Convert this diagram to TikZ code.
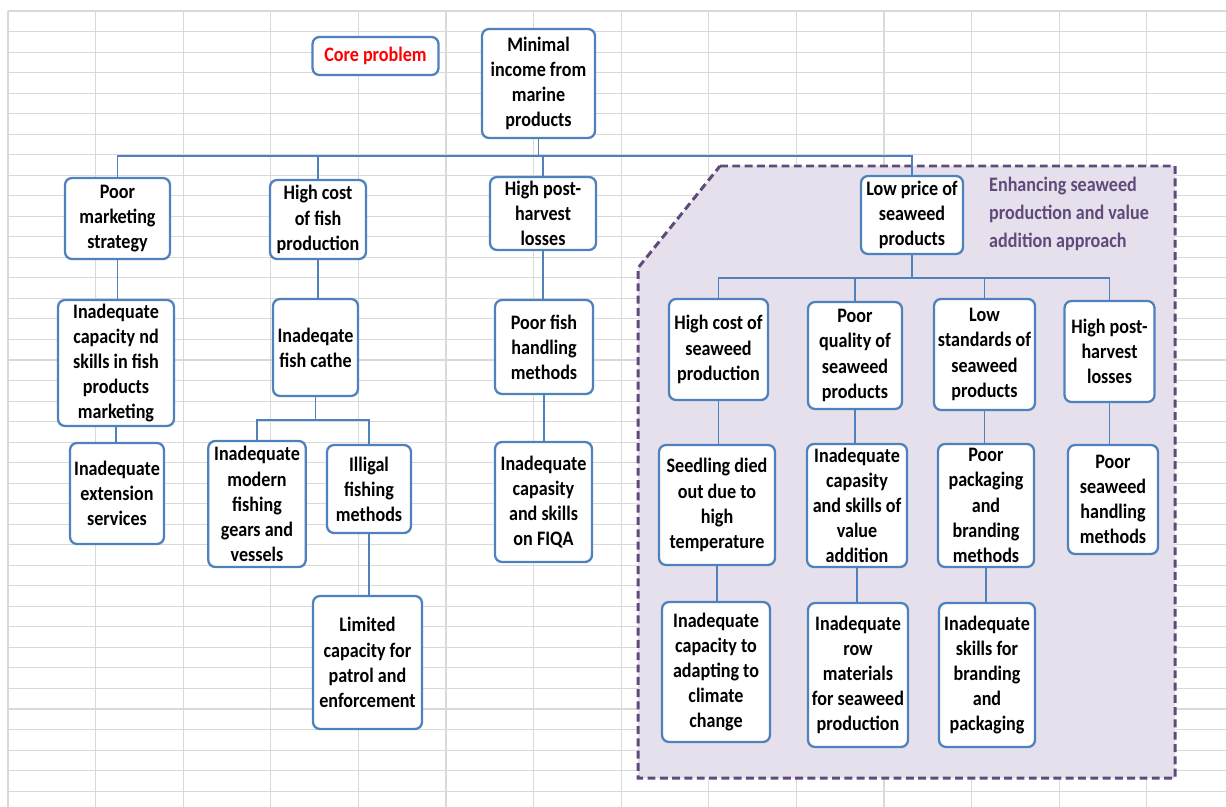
\documentclass[tikz,border=0pt]{standalone}
\usepackage{fontspec}
\setmainfont{Carlito}[FakeStretch=0.88]
\definecolor{boxblue}{HTML}{4F81BD}
\definecolor{gridgray}{HTML}{D9D9D9}
\definecolor{zonepurple}{HTML}{604A7B}
\definecolor{zonefill}{HTML}{E5E0EC}

\begin{document}
\begin{tikzpicture}[x=0.02cm,y=-0.02cm,
  box/.style={draw=boxblue,line width=1.3pt,rounded corners=4pt,fill=white,align=center,inner sep=1pt,font=\fontsize{11.7pt}{14.3pt}\selectfont\bfseries},
  link/.style={draw=boxblue,line width=1pt},
  gridline/.style={draw=gridgray,line width=0.6pt},
  zone/.style={draw=zonepurple,fill=zonefill,line width=1.7pt,dash pattern=on 4.5pt off 2.5pt}]
\fill[white] (0,0) rectangle (1226,807);
\useasboundingbox (0,0) rectangle (1226,807);
\foreach \k in {0,...,38}
  \draw[gridline] (8,11+20.53*\k) -- (1226,11+20.53*\k);
\foreach \k in {0,...,13}
  \draw[gridline] (8+87.6*\k,11) -- (8+87.6*\k,807);
\draw[zone] (720,166) -- (1175,166) -- (1175,778) -- (638,778) -- (638,268) -- cycle;

\node[box,text=red,minimum width=2.52cm,minimum height=0.76cm] (core) at (375.5,56) {Core problem};
\node[box,minimum width=2.26cm,minimum height=2.18cm] (income) at (538.5,83.5) {Minimal\\income from\\marine\\products};
\node[box,minimum width=2.10cm,minimum height=1.62cm] (mkt) at (117.5,218.5) {Poor\\marketing\\strategy};
\node[box,minimum width=1.92cm,minimum height=1.58cm] (fishcost) at (318,219.5) {High cost\\of fish\\production};
\node[box,minimum width=2.12cm,minimum height=1.46cm] (postfish) at (543,213.5) {High post-\\harvest\\losses};
\node[box,minimum width=2.04cm,minimum height=1.56cm] (seaprice) at (912,215) {Low price of\\seaweed\\products};
\node[anchor=west,align=left,text=zonepurple,font=\fontsize{11.7pt}{15.9pt}\selectfont\bfseries] (approach) at (983,214) {Enhancing seaweed\\production and value\\addition approach};

\node[box,minimum width=2.32cm,minimum height=2.52cm] (mktskill) at (116,363) {Inadequate\\capacity nd\\skills in fish\\products\\marketing};
\node[box,minimum width=1.88cm,minimum height=2.02cm] (extension) at (117,493.5) {Inadequate\\extension\\services};
\node[box,minimum width=1.70cm,minimum height=1.94cm] (catch) at (315.5,347.5) {Inadeqate\\fish cathe};
\node[box,minimum width=1.95cm,minimum height=2.52cm] (gears) at (257,504) {Inadequate\\modern\\fishing\\gears and\\vessels};
\node[box,minimum width=1.68cm,minimum height=1.76cm] (illegal) at (369,489) {Illigal\\fishing\\methods};
\node[box,minimum width=2.18cm,minimum height=2.66cm] (patrol) at (367.5,662.5) {Limited\\capacity for\\patrol and\\enforcement};
\node[box,minimum width=1.96cm,minimum height=1.88cm] (handling) at (544,347) {Poor fish\\handling\\methods};
\node[box,minimum width=1.94cm,minimum height=2.40cm] (fiqa) at (543.5,502) {Inadequate\\capasity\\and skills\\on FIQA};

\node[box,minimum width=1.98cm,minimum height=2.02cm] (seacost) at (718.5,349.5) {High cost of\\seaweed\\production};
\node[box,minimum width=1.88cm,minimum height=2.14cm] (quality) at (855,355.5) {Poor\\quality of\\seaweed\\products};
\node[box,minimum width=2.02cm,minimum height=2.22cm] (standards) at (984.5,354.5) {Low\\standards of\\seaweed\\products};
\node[box,minimum width=1.80cm,minimum height=2.02cm] (postsea) at (1109.5,351.5) {High post-\\harvest\\losses};
\node[box,minimum width=2.32cm,minimum height=2.40cm] (seedling) at (717,505) {Seedling died\\out due to\\high\\temperature};
\node[box,minimum width=2.00cm,minimum height=2.46cm] (valueadd) at (857,505.5) {Inadequate\\capasity\\and skills of\\value\\addition};
\node[box,minimum width=1.92cm,minimum height=2.46cm] (packaging) at (986,505.5) {Poor\\packaging\\and\\branding\\methods};
\node[box,minimum width=1.80cm,minimum height=2.18cm] (seahandling) at (1113,499.5) {Poor\\seaweed\\handling\\methods};
\node[box,minimum width=2.16cm,minimum height=2.80cm] (climate) at (716,672) {Inadequate\\capacity to\\adapting to\\climate\\change};
\node[box,minimum width=2.00cm,minimum height=2.88cm] (rawmat) at (858,675) {Inadequate\\row\\materials\\for seaweed\\production};
\node[box,minimum width=1.92cm,minimum height=2.88cm] (branding) at (987,675) {Inadequate\\skills for\\branding\\and\\packaging};

\coordinate (bus) at (0,156);
\coordinate (seabus) at (0,278);
\coordinate (catchbus) at (0,420);
\draw[link] (income.south) -- (income.south |- bus);
\draw[link] (mkt.north) |- (seaprice.north |- bus) -- (seaprice.north);
\draw[link] (fishcost.north) -- (fishcost.north |- bus);
\draw[link] (postfish.north) -- (postfish.north |- bus);
\draw[link] (seaprice.south) -- (seaprice.south |- seabus);
\draw[link] (seacost.north) |- (postsea.north |- seabus) -- (postsea.north);
\draw[link] (quality.north) -- (quality.north |- seabus);
\draw[link] (standards.north) -- (standards.north |- seabus);
\draw[link] (catch.south) -- (catch.south |- catchbus);
\draw[link] (gears.north) |- (illegal.north |- catchbus) -- (illegal.north);
\draw[link] (mkt.south) -- (mkt.south |- mktskill.north);
\draw[link] (mktskill.south) -- (mktskill.south |- extension.north);
\draw[link] (fishcost.south) -- (fishcost.south |- catch.north);
\draw[link] (illegal.south) -- (illegal.south |- patrol.north);
\draw[link] (postfish.south) -- (postfish.south |- handling.north);
\draw[link] (handling.south) -- (handling.south |- fiqa.north);
\draw[link] (seacost.south) -- (seacost.south |- seedling.north);
\draw[link] (seedling.south) -- (seedling.south |- climate.north);
\draw[link] (quality.south) -- (quality.south |- valueadd.north);
\draw[link] (valueadd.south) -- (valueadd.south |- rawmat.north);
\draw[link] (standards.south) -- (standards.south |- packaging.north);
\draw[link] (packaging.south) -- (packaging.south |- branding.north);
\draw[link] (postsea.south) -- (postsea.south |- seahandling.north);
\end{tikzpicture}
\end{document}
